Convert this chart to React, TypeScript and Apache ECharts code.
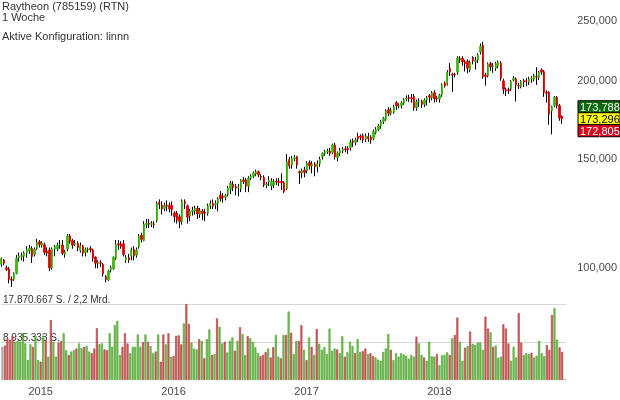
import { useEffect, useRef } from "react";
import * as echarts from "echarts";

const titleLines = ["Raytheon (785159) (RTN)", "1 Woche", "Aktive Konfiguration: linnn"];
const priceTicks = [100, 150, 200, 250];
const priceRange = [88.47, 269.2];
const quoteValues = [173.788, 173.296, 172.805];
const volumeMax = 17.870667;
const volumeTickLabels = ["8.935.333 S.", "17.870.667 S. / 2,2 Mrd."];
const firstWeek = "2014-09-22";

// weekly candles: [open, close, low, high]
const candles: [number, number, number, number][] = [
  [101.0, 103.2, 100.1, 103.6], [102.6, 101.4, 100.6, 103.0], [99.7, 99.1, 98.5, 100.6], [99.3, 95.5, 94.1, 100.0],
  [95.5, 95.2, 92.8, 96.5], [95.5, 97.5, 95.0, 98.0], [97.7, 103.2, 97.3, 104.5], [103.6, 104.2, 102.0, 105.5],
  [104.0, 104.3, 102.5, 105.5], [104.1, 105.4, 102.0, 106.0], [105.3, 106.7, 103.5, 108.0], [106.2, 107.2, 105.0, 108.5],
  [107.1, 103.9, 101.5, 108.0], [104.8, 106.7, 104.0, 107.5], [107.1, 109.5, 106.5, 111.0], [109.8, 108.6, 107.5, 110.5],
  [108.2, 109.3, 107.5, 110.0], [108.6, 105.5, 104.5, 109.5], [106.0, 105.3, 104.0, 107.5], [106.5, 99.7, 98.5, 107.5],
  [99.7, 106.9, 99.0, 107.5], [106.9, 107.8, 104.0, 108.5], [106.9, 108.5, 106.0, 109.5], [108.5, 108.7, 107.0, 110.5],
  [108.5, 105.2, 104.5, 110.5], [104.8, 105.8, 103.5, 106.5], [106.9, 112.2, 106.0, 113.0], [112.2, 109.9, 109.0, 113.0],
  [110.3, 108.4, 107.0, 111.0], [108.6, 109.3, 108.0, 110.5], [109.2, 107.5, 106.0, 110.0], [106.3, 108.2, 105.5, 109.5],
  [108.2, 105.2, 104.0, 108.5], [105.5, 106.7, 104.0, 107.5], [106.7, 106.9, 105.5, 107.5], [107.1, 106.5, 105.5, 108.0],
  [106.5, 103.3, 102.0, 107.0], [103.7, 101.4, 99.5, 104.0], [101.4, 101.7, 99.5, 102.5], [101.6, 101.4, 100.0, 102.5],
  [101.0, 97.4, 96.5, 101.5], [96.5, 95.5, 94.5, 97.0], [95.3, 98.5, 94.9, 99.0], [98.9, 99.8, 98.0, 100.5],
  [99.3, 103.7, 99.0, 104.0],
  [103.3, 108.8, 102.6, 110.5], [109.0, 108.5, 106.5, 110.5], [109.0, 107.9, 107.0, 110.0], [109.0, 104.7, 104.0, 110.5],
  [102.6, 103.6, 101.5, 104.5], [103.6, 102.6, 101.5, 105.0], [104.1, 106.5, 102.5, 107.5], [106.7, 104.1, 102.5, 108.0],
  [104.5, 106.5, 103.5, 107.5], [107.8, 112.2, 107.0, 113.0], [112.5, 110.8, 109.5, 113.5], [110.3, 117.3, 110.0, 118.5],
  [117.0, 117.6, 115.5, 119.5], [117.6, 117.2, 115.5, 119.5], [117.2, 117.4, 116.0, 118.5], [117.3, 117.0, 115.5, 118.5],
  [118.8, 126.6, 118.0, 127.5], [127.2, 126.2, 124.0, 128.5], [125.7, 124.0, 121.5, 127.5], [124.2, 125.7, 123.0, 127.0],
  [125.7, 125.3, 123.0, 128.0], [125.7, 124.0, 122.5, 127.0], [125.7, 123.6, 121.0, 127.5], [122.2, 120.5, 118.0, 123.0],
  [122.0, 119.0, 117.5, 123.0], [120.5, 118.3, 115.5, 121.5], [118.3, 127.8, 117.0, 128.5], [127.5, 126.6, 124.0, 128.5],
  [125.5, 120.3, 117.5, 126.0], [120.8, 122.8, 118.5, 124.0], [122.8, 123.4, 121.0, 125.0], [123.2, 124.3, 121.5, 125.5],
  [124.3, 121.7, 119.5, 125.5], [121.5, 123.2, 120.0, 124.5], [123.0, 122.0, 119.0, 124.0], [122.5, 122.0, 118.5, 124.0],
  [122.0, 125.5, 121.0, 126.5], [125.5, 126.5, 124.0, 128.0], [126.6, 125.3, 124.0, 128.5], [126.0, 126.5, 124.0, 128.0],
  [126.6, 128.8, 123.0, 129.5], [130.5, 128.8, 127.5, 132.5], [130.0, 129.5, 127.0, 131.5], [129.5, 130.3, 128.0, 131.0],
  [131.0, 133.9, 130.0, 135.0], [133.5, 136.4, 131.0, 137.5], [136.0, 134.4, 132.5, 137.5], [134.7, 134.0, 130.5, 136.0],
  [134.2, 134.5, 130.0, 136.0], [133.8, 138.1, 132.0, 138.5], [138.1, 137.3, 136.0, 139.5], [138.1, 135.0, 132.0, 139.0],
  [135.0, 139.0, 132.0, 140.0], [139.0, 140.2, 138.0, 141.0], [140.0, 141.6, 139.0, 142.5], [141.2, 142.4, 140.0, 143.5],
  [142.4, 140.8, 139.5, 143.0], [140.0, 139.5, 138.0, 141.0], [139.5, 135.6, 134.5, 140.5], [135.5, 136.0, 134.0, 137.0],
  [137.2, 138.0, 135.0, 140.0], [135.0, 137.5, 133.0, 139.0], [135.6, 137.2, 134.0, 138.5], [137.5, 137.0, 135.5, 139.0],
  [137.3, 136.8, 135.0, 139.0], [137.3, 136.6, 133.0, 141.6], [136.7, 132.3, 131.5, 137.5], [133.8, 147.8, 133.0, 152.0],
  [149.0, 145.4, 144.0, 150.5], [146.0, 149.5, 144.0, 151.0], [149.5, 150.0, 148.0, 151.5], [150.5, 146.0, 144.0, 151.0],
  [142.4, 141.8, 136.0, 143.0], [141.8, 142.8, 139.0, 144.0], [143.3, 142.0, 139.5, 145.0], [142.8, 147.0, 141.5, 148.0],
  [147.2, 145.5, 143.5, 148.5], [145.5, 146.5, 141.5, 148.0], [146.5, 145.1, 140.0, 147.5], [145.2, 146.7, 142.0, 148.5],
  [146.7, 149.2, 145.0, 150.5], [150.5, 152.4, 149.0, 153.0], [152.4, 153.3, 151.0, 154.5], [153.3, 153.8, 152.0, 155.0],
  [153.6, 152.5, 151.0, 155.5], [153.0, 157.2, 152.0, 158.0], [157.2, 150.5, 149.0, 158.5], [150.0, 152.5, 148.0, 153.5],
  [152.5, 154.0, 151.0, 155.5], [154.0, 155.0, 152.5, 156.0], [155.0, 154.5, 153.0, 156.5], [155.3, 154.5, 152.0, 156.5],
  [155.8, 159.2, 154.0, 160.5], [159.5, 158.8, 156.0, 161.0], [158.8, 160.2, 157.0, 161.5], [162.5, 160.7, 159.0, 164.5],
  [162.5, 161.8, 160.0, 163.5], [162.8, 160.2, 158.5, 164.0], [160.7, 162.5, 159.0, 164.0], [162.2, 160.9, 159.0, 164.5],
  [161.8, 160.2, 158.0, 163.0], [161.0, 165.2, 160.0, 166.5], [164.7, 166.5, 163.5, 168.0], [166.5, 168.7, 165.5, 170.0],
  [168.7, 171.5, 167.0, 172.5], [171.5, 173.4, 170.0, 174.5], [173.0, 178.6, 172.0, 179.5], [179.3, 176.8, 175.0, 181.0],
  [176.8, 178.6, 175.5, 180.5], [177.5, 181.2, 176.5, 182.5], [184.0, 181.8, 179.0, 185.0], [181.5, 181.8, 180.0, 183.5],
  [182.0, 183.8, 180.0, 185.0], [183.8, 185.8, 182.5, 187.0], [186.5, 187.0, 185.0, 189.0], [187.5, 186.8, 184.5, 189.5],
  [187.3, 186.8, 184.0, 190.0], [188.2, 180.5, 178.5, 190.0], [180.5, 184.5, 178.5, 186.0], [184.3, 185.0, 181.0, 187.0],
  [185.0, 182.8, 180.5, 186.0], [182.8, 185.8, 181.0, 187.0], [185.8, 187.0, 182.0, 188.5], [188.8, 187.6, 184.0, 190.0],
  [187.3, 190.8, 185.5, 192.0], [190.8, 186.6, 184.0, 192.5], [187.0, 186.5, 184.5, 188.5], [186.5, 189.0, 184.0, 190.0],
  [189.4, 196.5, 188.0, 197.5], [197.9, 195.6, 194.5, 199.0], [197.0, 206.2, 196.0, 207.5], [209.2, 206.2, 203.0, 213.0],
  [204.5, 203.8, 191.3, 205.5],
  [204.2, 203.8, 202.0, 205.5], [206.0, 217.2, 204.0, 218.5], [216.5, 215.8, 213.0, 218.5], [216.9, 214.0, 211.0, 218.5],
  [214.0, 212.5, 206.5, 215.5], [214.5, 209.0, 205.0, 216.0], [207.7, 213.6, 206.0, 215.0], [217.4, 214.7, 212.0, 218.5],
  [214.2, 215.2, 208.0, 218.0], [215.5, 219.6, 213.0, 221.0], [222.0, 226.7, 220.0, 229.0], [227.5, 202.6, 201.0, 230.5],
  [203.8, 202.8, 196.0, 205.5], [203.2, 212.4, 202.0, 213.5], [212.6, 210.0, 207.0, 214.0], [210.5, 210.9, 205.5, 213.0],
  [209.0, 212.6, 207.0, 214.0], [210.7, 213.8, 209.0, 215.0], [213.0, 201.3, 199.5, 214.5], [199.4, 193.3, 190.0, 201.0],
  [193.0, 192.2, 188.5, 194.5], [193.0, 192.5, 190.0, 194.5], [193.5, 198.9, 192.0, 200.0], [200.0, 201.3, 199.0, 203.0],
  [200.8, 196.4, 184.7, 202.0], [196.0, 195.8, 193.5, 198.0], [195.2, 198.9, 194.0, 200.0], [199.6, 198.6, 195.0, 201.0],
  [199.6, 198.8, 195.5, 201.5], [198.6, 200.6, 196.5, 202.5], [201.3, 201.5, 198.0, 203.0], [200.6, 203.3, 199.0, 204.5],
  [202.5, 202.3, 196.4, 209.8], [202.0, 205.9, 200.0, 207.0], [207.7, 206.0, 204.0, 209.0], [206.4, 191.2, 188.0, 207.5],
  [191.2, 190.5, 184.0, 192.5], [191.2, 176.2, 169.5, 192.0], [178.5, 181.2, 163.5, 182.0], [182.0, 187.5, 181.0, 188.5],
  [187.5, 181.9, 180.0, 188.5], [181.9, 173.7, 172.0, 183.0], [174.9, 173.3, 170.0, 175.5],
];

// weekly volume, million shares
const volumes = [
  7.8, 8.1, 9.8, 9.4, 10.4, 9.0, 9.2, 9.0, 11.0, 8.6,
  4.7, 8.4, 7.8, 10.4, 4.7, 4.3, 10.4, 9.4, 5.5, 14.1,
  9.0, 5.5, 8.8, 9.2, 11.0, 7.0, 5.9, 6.7, 7.0, 7.4,
  8.6, 7.5, 7.8, 8.0, 6.7, 6.3, 7.4, 12.2, 8.4, 8.6,
  7.2, 7.0, 11.0, 7.8, 12.9, 13.9, 5.9, 7.8, 11.0, 8.6,
  6.3, 7.8, 7.8, 10.7, 7.8, 8.9, 10.7, 9.0, 8.0, 6.3,
  6.7, 10.7, 4.3, 10.7, 8.4, 11.0, 5.5, 5.6, 10.4, 10.5,
  8.4, 13.3, 17.87, 13.2,
  8.8, 7.4, 7.2, 9.6, 9.2, 5.1, 9.6, 11.9, 5.9, 6.1,
  14.5, 12.5, 8.6, 9.0, 6.5, 9.2, 10.0, 6.9, 9.2, 12.4,
  10.8, 5.9, 10.3, 9.8, 9.0, 7.7, 6.4, 5.6, 5.9, 6.6,
  7.4, 5.3, 7.7, 10.6, 5.5, 5.1, 10.6, 10.6, 16.1, 11.1,
  6.1, 9.2, 9.2, 12.9, 7.1, 4.7, 10.0, 7.8, 5.9, 12.0,
  8.5, 7.1, 7.7, 6.1, 12.1, 6.9, 7.4, 7.2, 6.3, 10.3,
  5.5, 6.5, 9.0, 8.0, 6.3, 9.6, 6.6, 6.8, 7.4, 6.1,
  6.3, 5.6, 5.3, 4.8, 4.5, 6.6, 7.4, 10.8,
  7.1, 4.7, 6.3, 5.5, 6.3, 6.0, 5.7, 5.0, 5.9, 5.5,
  10.2, 8.6, 5.9, 5.3, 4.5, 9.0, 5.6, 5.5, 6.1, 3.5,
  5.8, 5.9, 6.5, 5.9, 9.8, 10.6, 14.7, 9.0, 4.5, 7.6,
  8.0, 11.4, 8.5, 8.2, 8.8, 8.8, 7.1, 14.9, 12.1, 11.2,
  7.8, 8.1, 5.2, 5.5, 13.1, 12.1, 8.6, 4.5, 7.8, 5.3,
  15.7, 8.8, 5.9, 6.3, 6.1, 6.4, 5.3, 5.7, 9.2, 6.3,
  5.6, 8.2, 7.1, 15.3, 16.9, 9.5, 7.7, 6.6, 0.3,
];
// g = up week, r = down week, x = neutral
const volumeDirs =
  "xrrrrggggg" + "ggrggrgrgr" + "ggrrggrggr" + "ggrggrrrgg" + "rrgggggrrr" + "gggggrgrgg" + "rgrrgrgrrr" + "rgrr" +
  "gggrgrggrg" + "rggrgggrgr" + "ggrggggrrr" + "grrggrgrgr" + "ggrrgrgrgr" + "gggggggrgg" + "rgggrggrrg" + "rrgggggg" +
  "rggggggggg" + "rggrggggrg" + "gggrgrrggr" + "grgggggrrg" + "rgggrrrggg" + "rrgggrgggg" + "grrrggrrx";

const FONT = '"Liberation Sans", Arial, Helvetica, sans-serif';
const GREEN = "#3cb80e";
const RED = "#e00000";
const TEXT = "#333";
const AXIS_TEXT = "#4a4a4a";

function fmtPrice(v: number) {
  return v.toFixed(3).replace(".", ",");
}

export default function App() {
  const ref = useRef<HTMLDivElement>(null);

  useEffect(() => {
    const el = ref.current!;
    const chart = echarts.init(el, undefined, { renderer: "svg" });
    const L = Math.log;

    const weeks = candles.map((_, i) => {
      const d = new Date(firstWeek + "T00:00:00Z");
      d.setUTCDate(d.getUTCDate() + 7 * i);
      return d.toISOString().slice(0, 10);
    });
    const yearStarts = new Set<number>();
    weeks.forEach((w, i) => {
      if (i > 0 && w.slice(0, 4) !== weeks[i - 1].slice(0, 4)) yearStarts.add(i);
    });

    const wickData = candles.map(([o, c, l, h]) => {
      const m = L((o + c) / 2);
      return [m, m, L(l), L(h)];
    });
    const bodyData = candles.map(([o, c]) => [L(o), L(c), L(Math.min(o, c)), L(Math.max(o, c))]);

    const volStyle = (d: string) =>
      d === "g"
        ? { color: "#7cc45c", borderColor: "#3f9a22", borderWidth: 0.6 }
        : d === "r"
        ? { color: "#d86464", borderColor: "#a83434", borderWidth: 0.6 }
        : { color: "#bdbdbd", borderColor: "#999", borderWidth: 0.6 };

    const gridW = 566;

    chart.setOption({
      animation: false,
      grid: [
        { left: 0, top: 0, width: gridW, height: 300 },
        { left: 0, top: 304, width: gridW, height: 76 },
      ],
      xAxis: [
        {
          type: "category", gridIndex: 0, data: weeks, show: false,
        },
        {
          type: "category", gridIndex: 1, data: weeks,
          axisLine: { show: false }, axisTick: { show: false },
          axisLabel: {
            interval: (i: number) => yearStarts.has(i),
            formatter: (v: string) => v.slice(0, 4),
            color: AXIS_TEXT, fontSize: 11, fontFamily: FONT, margin: 5,
          },
        },
      ],
      yAxis: [
        {
          type: "value", gridIndex: 0, position: "right",
          min: L(priceRange[0]), max: L(priceRange[1]),
          axisLine: { show: false }, axisTick: { show: false }, splitLine: { show: false },
          axisLabel: {
            customValues: priceTicks.map((p) => L(p)),
            formatter: (v: number) => fmtPrice(Math.exp(v)),
            color: AXIS_TEXT, fontSize: 11, fontFamily: FONT, margin: 14,
          },
        },
        {
          type: "value", gridIndex: 1, position: "left",
          min: 0, max: volumeMax, interval: volumeMax / 2,
          axisLine: { show: false }, axisTick: { show: false },
          splitLine: { show: true, showMinLine: false, lineStyle: { color: "#d6d6d6", width: 1 } },
          axisLabel: {
            inside: true, margin: 2, showMinLabel: false,
            verticalAlign: "bottom", align: "left",
            formatter: (v: number) => {
              if (Math.abs(v - volumeMax) < 1e-3) return volumeTickLabels[1];
              if (Math.abs(v - volumeMax / 2) < 1e-3) return volumeTickLabels[0];
              return "";
            },
            color: TEXT, fontSize: 10, fontFamily: FONT,
          },
        },
      ],
      series: [
        {
          type: "bar", xAxisIndex: 1, yAxisIndex: 1, barCategoryGap: "22%",
          data: volumes.map((v, i) => ({ value: v, itemStyle: volStyle(volumeDirs[i]) })),
          z: 1,
        },
        {
          type: "candlestick", xAxisIndex: 0, yAxisIndex: 0, barWidth: 1,
          data: wickData,
          itemStyle: {
            color: "#000", color0: "#000", borderColor: "#000", borderColor0: "#000",
            borderColorDoji: "#000", borderWidth: 1,
          },
          z: 2,
        },
        {
          type: "candlestick", xAxisIndex: 0, yAxisIndex: 0, barWidth: 1.9,
          data: bodyData,
          itemStyle: {
            color: GREEN, color0: RED, borderColor: GREEN, borderColor0: RED,
            borderColorDoji: GREEN, borderWidth: 0.8,
          },
          z: 3,
        },
      ],
    });

    const yMid = chart.convertToPixel({ yAxisIndex: 0 }, L(quoteValues[1])) as number;
    const boxH = 12;
    const boxX = gridW + 12;
    const boxStyles = [
      { bg: "#0d6b0d", fg: "#fff" },
      { bg: "#ffff00", fg: "#000" },
      { bg: "#e0001c", fg: "#fff" },
    ];
    const quoteEls = quoteValues.map((q, k) => {
      const cy = yMid + (k - 1) * boxH;
      return {
        type: "group",
        children: [
          {
            type: "rect",
            shape: { x: boxX, y: cy - boxH / 2, width: 620 - boxX, height: boxH },
            style: { fill: boxStyles[k].bg, stroke: "#000", lineWidth: 1 },
          },
          {
            type: "text", x: boxX + 2, y: cy + 0.5,
            style: {
              text: fmtPrice(q), fill: boxStyles[k].fg, font: `11px ${FONT}`,
              textAlign: "left", textVerticalAlign: "middle",
            },
          },
        ],
      };
    });
    const titleYs = [6, 17, 36];
    const titleEls = titleLines.map((t, k) => ({
      type: "text", x: 2, y: titleYs[k],
      style: { text: t, fill: TEXT, font: `11px ${FONT}`, textAlign: "left", textVerticalAlign: "middle" },
    }));

    chart.setOption({ graphic: [...titleEls, ...quoteEls] });

    return () => chart.dispose();
  }, []);

  return <div ref={ref} style={{ position: "fixed", left: 0, top: 0, width: 620, height: 400 }} />;
}
